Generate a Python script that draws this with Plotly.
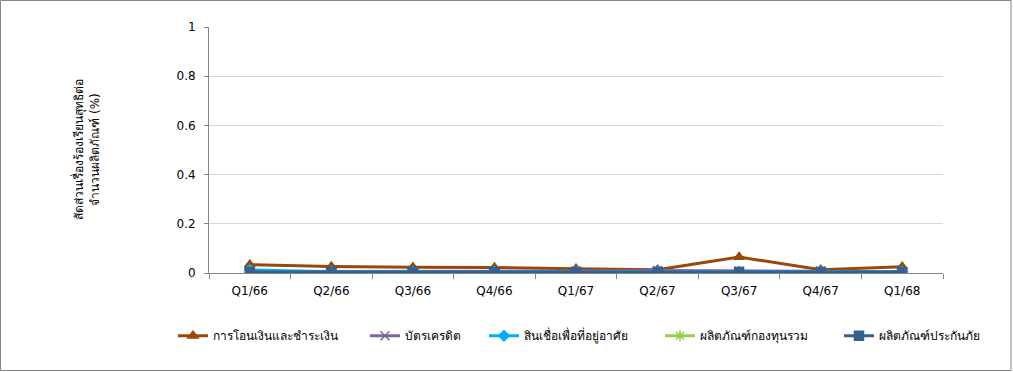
import plotly.graph_objects as go

categories = ["Q1/66", "Q2/66", "Q3/66", "Q4/66", "Q1/67", "Q2/67", "Q3/67", "Q4/67", "Q1/68"]
series_names = ["การโอนเงินและชำระเงิน", "บัตรเครดิต", "สินเชื่อเพื่อที่อยู่อาศัย", "ผลิตภัณฑ์กองทุนรวม", "ผลิตภัณฑ์ประกันภัย"]
transfer = [0.034, 0.026, 0.023, 0.022, 0.017, 0.013, 0.065, 0.013, 0.025]
credit_card = [0.006, 0.006, 0.006, 0.006, 0.007, 0.010, 0.008, 0.008, 0.005]
housing = [0.013, 0.005, 0.005, 0.005, 0.005, 0.005, 0.005, 0.005, 0.005]
mutual_fund = [0.001, 0.001, 0.001, 0.001, 0.001, 0.001, 0.001, 0.001, 0.001]
insurance = [0.004, 0.004, 0.004, 0.004, 0.004, 0.004, 0.004, 0.004, 0.004]
y_ticks = [0, 0.2, 0.4, 0.6, 0.8, 1]
y_tick_labels = ["0", "0.2", "0.4", "0.6", "0.8", "1"]
y_title_lines = ["สัดส่วนเรื่องร้องเรียนสุทธิต่อ", "จำนวนผลิตภัณฑ์ (%)"]

styles = [
    dict(color="#984807", symbol="triangle-up", size=9),
    dict(color="#8064A2", symbol="x-thin-open", size=9),
    dict(color="#00B0F0", symbol="diamond", size=8),
    dict(color="#92D050", symbol="asterisk-open", size=9),
    dict(color="#376092", symbol="square", size=9),
]
values = [transfer, credit_card, housing, mutual_fund, insurance]

FONT = "Tahoma, 'DejaVu Sans', 'Noto Sans', sans-serif"
PLOT_L, PLOT_W = 209, 734
legend_line_starts = [180, 372, 491, 667, 846]

fig = go.Figure()
legend_layout = {}
for i, (name, vals, st) in enumerate(zip(series_names, values, styles)):
    lg = "legend" if i == 0 else f"legend{i+1}"
    fig.add_trace(go.Scatter(
        x=categories, y=vals, name=name, mode="lines+markers",
        line=dict(color=st["color"], width=3),
        marker=dict(symbol=st["symbol"], size=st["size"], color=st["color"],
                    line=dict(color=st["color"], width=1.5)),
        legend=lg,
    ))
    legend_layout[lg] = dict(
        orientation="h", x=(legend_line_starts[i] - 5 - 2 - PLOT_L) / PLOT_W, xanchor="left",
        y=-0.255, yanchor="middle", font=dict(size=12), itemwidth=30,
        bgcolor="rgba(0,0,0,0)", borderwidth=0,
    )

fig.update_layout(
    width=1013, height=372,
    margin=dict(l=PLOT_L, r=70, t=27, b=99),
    paper_bgcolor="white", plot_bgcolor="white",
    font=dict(family=FONT, size=12, color="#000000"),
    showlegend=True,
    xaxis=dict(type="category", showline=True, linecolor="#868686", linewidth=1,
               ticks="outside", tickson="boundaries", ticklen=5, tickcolor="#868686",
               showgrid=False, tickfont=dict(size=12), range=[-0.5, 8.5],
               ticklabelstandoff=7),
    yaxis=dict(range=[0, 1], tickvals=y_ticks, ticktext=y_tick_labels,
               showline=True, linecolor="#868686", linewidth=1,
               ticks="outside", ticklen=4, tickcolor="#868686",
               showgrid=True, gridcolor="#D9D9D9", gridwidth=1, zeroline=False,
               tickfont=dict(size=12), ticklabelstandoff=6),
    annotations=[dict(text="<br>".join(y_title_lines), textangle=-90, xref="paper", yref="paper",
                      x=(86 - PLOT_L) / PLOT_W, y=0.5, xanchor="center", yanchor="middle", showarrow=False,
                      font=dict(size=12))],
    shapes=[dict(type="rect", xref="paper", yref="paper", xsizemode="pixel", ysizemode="pixel",
                 xanchor=0, yanchor=0, x0=-208.5, x1=802, y0=-97.5, y1=272.5,
                 line=dict(color="#868686", width=1), fillcolor="rgba(0,0,0,0)")],
    **legend_layout,
)

fig.write_html("out.html", config={"displayModeBar": False},
               post_script="document.body.style.margin='0';document.body.style.overflow='hidden';")
